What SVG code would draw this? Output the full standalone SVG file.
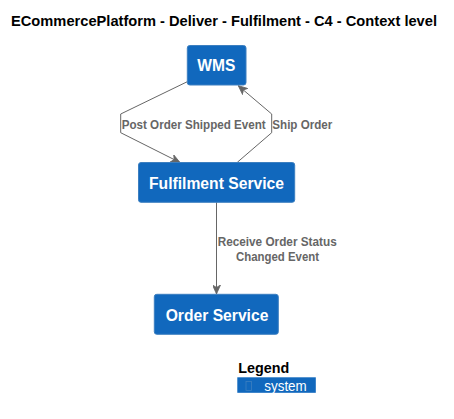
<svg xmlns="http://www.w3.org/2000/svg" width="454" height="419" viewBox="0 0 454 419">
<style>
.node{fill:#1168BD;stroke:#3C7FC0;stroke-width:1}
.nt{font-family:"Liberation Sans",Arial,sans-serif;font-weight:bold;font-size:16px;fill:#FFFFFF}
.edge{fill:none;stroke:#666666;stroke-width:1}
.el{font-family:"Liberation Sans",Arial,sans-serif;font-weight:bold;font-size:12px;fill:#666666}
.title{font-family:"Liberation Sans",Arial,sans-serif;font-weight:bold;font-size:14px;fill:#000000}
</style>
<defs>
<marker id="arr" viewBox="0 0 9 8" refX="9" refY="4" markerWidth="9" markerHeight="8" markerUnits="userSpaceOnUse" orient="auto">
<path d="M0,0 L9,4 L0,8 L2.5,4 Z" fill="#666666" stroke="#666666" stroke-width="0.8"/>
</marker>
</defs>
<rect width="454" height="419" fill="#FFFFFF"/>
<text class="title" x="11" y="26" textLength="426" lengthAdjust="spacingAndGlyphs">ECommercePlatform - Deliver - Fulfilment - C4 - Context level</text>
<g id="connectors">
<g id="e1">
<path class="edge" d="M187.3,81.7 L120.7,114 L120.7,132.7 L180,162.5" marker-end="url(#arr)"/>
<text class="el" x="121.7" y="129" textLength="144" lengthAdjust="spacingAndGlyphs">Post Order Shipped Event</text>
</g>
<g id="e2">
<path class="edge" d="M237.3,162.3 L271.7,132.7 L271.7,114 L238.3,85.7" marker-end="url(#arr)"/>
<text class="el" x="272.3" y="129" textLength="60" lengthAdjust="spacingAndGlyphs">Ship Order</text>
</g>
<g id="e3">
<path class="edge" d="M216.5,202.3 L216.5,294" marker-end="url(#arr)"/>
<text class="el" x="217.7" y="246" textLength="119" lengthAdjust="spacingAndGlyphs">Receive Order Status</text>
<text class="el" x="236" y="261" textLength="83" lengthAdjust="spacingAndGlyphs">Changed Event</text>
</g>
</g>
<g id="wms">
<rect class="node" x="187.3" y="45.5" width="58.7" height="39.5" rx="2.5"/>
<text class="nt" x="197.3" y="71" textLength="38" lengthAdjust="spacingAndGlyphs">WMS</text>
</g>
<g id="fulfilment">
<rect class="node" x="138.5" y="162.5" width="156.2" height="39.8" rx="2.5"/>
<text class="nt" x="149" y="188.5" textLength="135" lengthAdjust="spacingAndGlyphs">Fulfilment Service</text>
</g>
<g id="order">
<rect class="node" x="154.3" y="294.3" width="124" height="40" rx="2.5"/>
<text class="nt" x="165.7" y="320.5" textLength="102.7" lengthAdjust="spacingAndGlyphs">Order Service</text>
</g>
<g id="legend">
<text x="238.3" y="373" font-family="Liberation Sans,Arial,sans-serif" font-weight="bold" font-size="14" fill="#000000" textLength="51" lengthAdjust="spacingAndGlyphs">Legend</text>
<rect x="237.3" y="377.3" width="78.5" height="15.5" fill="#1168BD"/>
<rect x="246" y="381.5" width="5.5" height="9" fill="none" stroke="#3C7FC0" stroke-width="0.8"/>
<text x="264.3" y="390.5" font-family="Liberation Sans,Arial,sans-serif" font-size="14" fill="#FFFFFF" textLength="42.4" lengthAdjust="spacingAndGlyphs">system</text>
</g>
</svg>
